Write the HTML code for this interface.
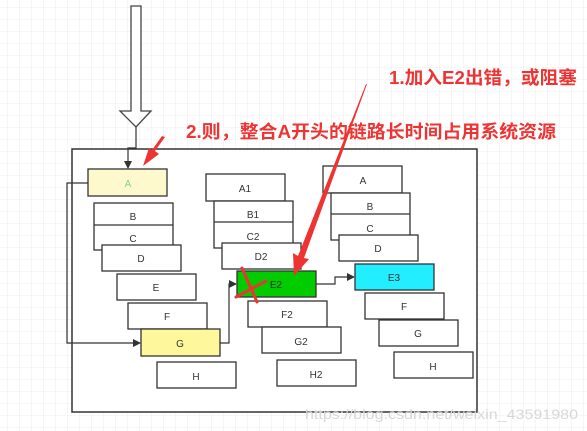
<!DOCTYPE html>
<html><head><meta charset="utf-8"><style>
html,body{margin:0;padding:0;background:#fff;}
svg{display:block}
text{font-family:"Liberation Sans","Noto Sans CJK SC",sans-serif;}
</style></head><body>
<svg width="587" height="431" viewBox="0 0 587 431" xmlns="http://www.w3.org/2000/svg">
<defs>
<pattern id="g" width="12" height="12" patternUnits="userSpaceOnUse" x="8" y="8">
<path d="M12 0V12H0" fill="none" stroke="#ececec" stroke-width="1"/>
</pattern>
<marker id="ah" markerWidth="8" markerHeight="8" refX="7" refY="4" orient="auto" markerUnits="userSpaceOnUse">
<path d="M0,0 L8,4 L0,8 Z" fill="#333"/>
</marker>
</defs>
<rect width="587" height="431" fill="url(#g)"/>
<rect x="72" y="149" width="405" height="263" fill="#fff" stroke="#333" stroke-width="1.5"/>

<path d="M131,6 H141 V111 H151 L136,127 L120,111 H131 Z" fill="#fff" stroke="#444" stroke-width="1.3"/>
<path d="M136,127 V148 H128 V168" fill="none" stroke="#333" stroke-width="1.2" marker-end="url(#ah)"/>

<g stroke="#333" stroke-width="1.3" font-size="10" text-anchor="middle" fill="#fff">
<rect x="88" y="169" width="79" height="27" fill="#fdf9cc"/>
<rect x="94" y="203" width="79" height="47"/><line x1="94" y1="225" x2="173" y2="225"/>
<rect x="102" y="245" width="79" height="26"/>
<rect x="117" y="274" width="79" height="26"/>
<rect x="128" y="303" width="79" height="26"/>
<rect x="141" y="329" width="79" height="27" fill="#fef79b"/>
<rect x="157" y="362" width="79" height="26"/>
<rect x="206" y="174" width="79" height="27"/>
<rect x="214" y="201" width="79" height="47"/><line x1="214" y1="222" x2="293" y2="222"/>
<rect x="222" y="243" width="79" height="26"/>
<rect x="237" y="271" width="79" height="26" fill="#00cc00"/>
<rect x="248" y="301" width="79" height="26"/>
<rect x="262" y="327" width="79" height="26"/>
<rect x="277" y="360" width="79" height="26"/>
<rect x="323" y="166" width="79" height="27"/>
<rect x="331" y="193" width="79" height="47"/><line x1="331" y1="214" x2="410" y2="214"/>
<rect x="339" y="235" width="79" height="26"/>
<rect x="355" y="264" width="79" height="26" fill="#22eeff"/>
<rect x="365" y="293" width="79" height="26"/>
<rect x="379" y="320" width="79" height="26"/>
<rect x="394" y="352" width="79" height="26"/>
</g>
<g font-size="10" text-anchor="middle" fill="#333">
<text x="128" y="187" fill="#7fd67f">A</text>
<text x="133" y="220">B</text><text x="133" y="242">C</text>
<text x="141" y="262">D</text><text x="156" y="291">E</text>
<text x="167" y="320">F</text><text x="180" y="347">G</text>
<text x="196" y="380">H</text>
<text x="245" y="192">A1</text><text x="253" y="218">B1</text><text x="253" y="240">C2</text>
<text x="261" y="260">D2</text><text x="276" y="288">E2</text><text x="287" y="318">F2</text>
<text x="301" y="345">G2</text><text x="316" y="378">H2</text>
<text x="363" y="184">A</text><text x="370" y="210">B</text><text x="370" y="232">C</text>
<text x="378" y="252">D</text><text x="394" y="281">E3</text><text x="404" y="310">F</text>
<text x="418" y="337">G</text><text x="433" y="370">H</text>
</g>

<g fill="none" stroke="#333" stroke-width="1.2">
<path d="M88,183 H67 V343 H140" marker-end="url(#ah)"/>
<path d="M220,343 H229 V284 H236" marker-end="url(#ah)"/>
<path d="M316,284 H335 V277 H354" marker-end="url(#ah)"/>
</g>

<g stroke="#ee3333" stroke-width="3" stroke-linecap="round">
<line x1="236" y1="297" x2="266" y2="281"/>
<line x1="242" y1="268" x2="257" y2="302"/>
</g>
<path d="M165,137 L155,151 L159,154 L143,166 L149,148 L152,150 L162,136 Z" fill="#ee3333"/>
<path d="M367,84 L304,258 L309,259 L294,276 L293,253 L298,256 L366,84 Z" fill="#ee3333"/>

<text x="389" y="84" font-size="18" font-weight="bold" fill="#ee3333" textLength="188" lengthAdjust="spacingAndGlyphs">1.加入E2出错，或阻塞</text>
<text x="186" y="138" font-size="18" font-weight="bold" fill="#ee3333" textLength="370" lengthAdjust="spacingAndGlyphs">2.则，整合A开头的链路长时间占用系统资源</text>
<text x="305" y="419" font-size="14" fill="#d8d8d8" textLength="273" lengthAdjust="spacingAndGlyphs">https://blog.csdn.net/weixin_43591980</text>
</svg>
</body></html>
